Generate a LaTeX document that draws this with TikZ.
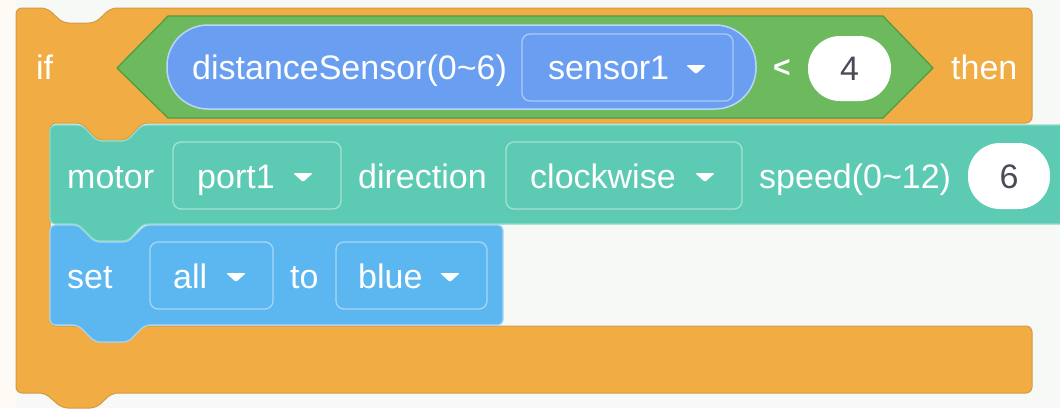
\documentclass[tikz,border=0pt]{standalone}
\usepackage{fontspec}
\setmainfont{Liberation Sans}
\definecolor{bg}{HTML}{F7F9F7}
\definecolor{ctrl}{HTML}{F1AC43}
\definecolor{ctrlline}{HTML}{D39A45}
\definecolor{opfill}{HTML}{6CBA5D}
\definecolor{opline}{HTML}{4F9B40}
\definecolor{sensfill}{HTML}{6A9EF0}
\definecolor{sensline}{HTML}{BED3F8}
\definecolor{motfill}{HTML}{5DCAB4}
\definecolor{motline}{HTML}{8EDCCB}
\definecolor{ledfill}{HTML}{5CB6F0}
\definecolor{ledline}{HTML}{A6D6F6}
\definecolor{numtext}{HTML}{4A4B57}
\begin{document}
\begin{tikzpicture}[x=1pt,y=-1pt,
  word/.style={text=white, font=\fontsize{34}{40}\selectfont, anchor=base west, inner sep=0pt},
  numword/.style={text=numtext, font=\fontsize{34}{40}\selectfont, anchor=center, inner sep=0pt},
  ddbox/.style={draw=white, draw opacity=0.45, line width=1.3pt, rounded corners=8pt},
  oval/.style={fill=white, rounded corners=32pt},
  arrowtip/.style={fill=white, rounded corners=1.5pt}
]
\clip (0,0) rectangle (1060,408);
\fill[bg] (0,0) rectangle (1060,408);
\fill[bg!60!orange!8] (0,0) rectangle (16,408);

% if/then C-block
\filldraw[fill=ctrl, draw=ctrlline, line width=1pt, rounded corners=6pt]
  (16,8) -- (47,8) -- (63,23) -- (95,23) -- (111,8) -- (1032,8) -- (1032,123)
  -- (142,123) -- (127,140) -- (97,140) -- (82,123) -- (50,123) -- (50,326)
  -- (1032,326) -- (1032,393) -- (112,393) -- (96,408) -- (62,408) -- (45,393)
  -- (16,393) -- cycle;

% comparison block
\filldraw[fill=opfill, draw=opline, line width=1.2pt, line join=round]
  (117,68) -- (168,16) -- (883,16) -- (933,68) -- (883,118) -- (168,118) -- cycle;

% sensor reporter
\filldraw[fill=sensfill, draw=sensline, line width=1.5pt, rounded corners=41pt]
  (167,25) rectangle (756,109);
\draw[ddbox] (522,34) rectangle (733,101);
\fill[arrowtip] (686,65) -- (706,65) -- (696,74) -- cycle;
\fill[oval] (808,36) rectangle (891,101);

% LED block
\filldraw[fill=ledfill, draw=ledline, line width=1.2pt, rounded corners=5pt]
  (50,225) -- (78,225) -- (95,242) -- (128,242) -- (145,225) -- (503,225)
  -- (503,325) -- (145,325) -- (128,342) -- (95,342) -- (78,325) -- (50,325) -- cycle;
\draw[ddbox] (150,242) rectangle (273,309);
\draw[ddbox] (336,242) rectangle (487,309);
\fill[arrowtip] (226,273) -- (246,273) -- (236,282) -- cycle;
\fill[arrowtip] (440,273) -- (460,273) -- (450,282) -- cycle;

% motor block
\filldraw[fill=motfill, draw=motline, line width=1.2pt, rounded corners=5pt]
  (50,125) -- (82,125) -- (97,141) -- (127,141) -- (142,125) -- (1080,125)
  -- (1080,224) -- (143,224) -- (128,241) -- (95,241) -- (78,224) -- (50,224) -- cycle;
\draw[ddbox] (173,142) rectangle (341,209);
\draw[ddbox] (506,142) rectangle (742,209);
\fill[arrowtip] (293,173) -- (313,173) -- (303,182) -- cycle;
\fill[arrowtip] (695,173) -- (715,173) -- (705,182) -- cycle;
\fill[oval] (968,143) rectangle (1050,209);

% texts
\node[word] (tif) at (36,79) {if};
\node[word] (tsens) at (192,79) {distanceSensor(0\textasciitilde6)};
\node[word] (tsel) at (548,79) {sensor1};
\node[text=white, font=\fontsize{30}{34}\selectfont\bfseries, inner sep=0pt] (tlt) at (782,68) {<};
\node[numword] (tfour) at (849.5,69) {4};
\node[word] (tthen) at (951,79) {then};

\node[word] (tmotor) at (67,188) {motor};
\node[word] (tport) at (197,188) {port1};
\node[word] (tdir) at (358,188) {direction};
\node[word] (tcw) at (530,188) {clockwise};
\node[word] (tspeed) at (759,188) {speed(0\textasciitilde12)};
\node[numword] (tsix) at (1009,177) {6};

\node[word] (tset) at (67,288) {set};
\node[word] (tall) at (173,288) {all};
\node[word] (tto) at (290,288) {to};
\node[word] (tblue) at (358,288) {blue};
\end{tikzpicture}
\end{document}
